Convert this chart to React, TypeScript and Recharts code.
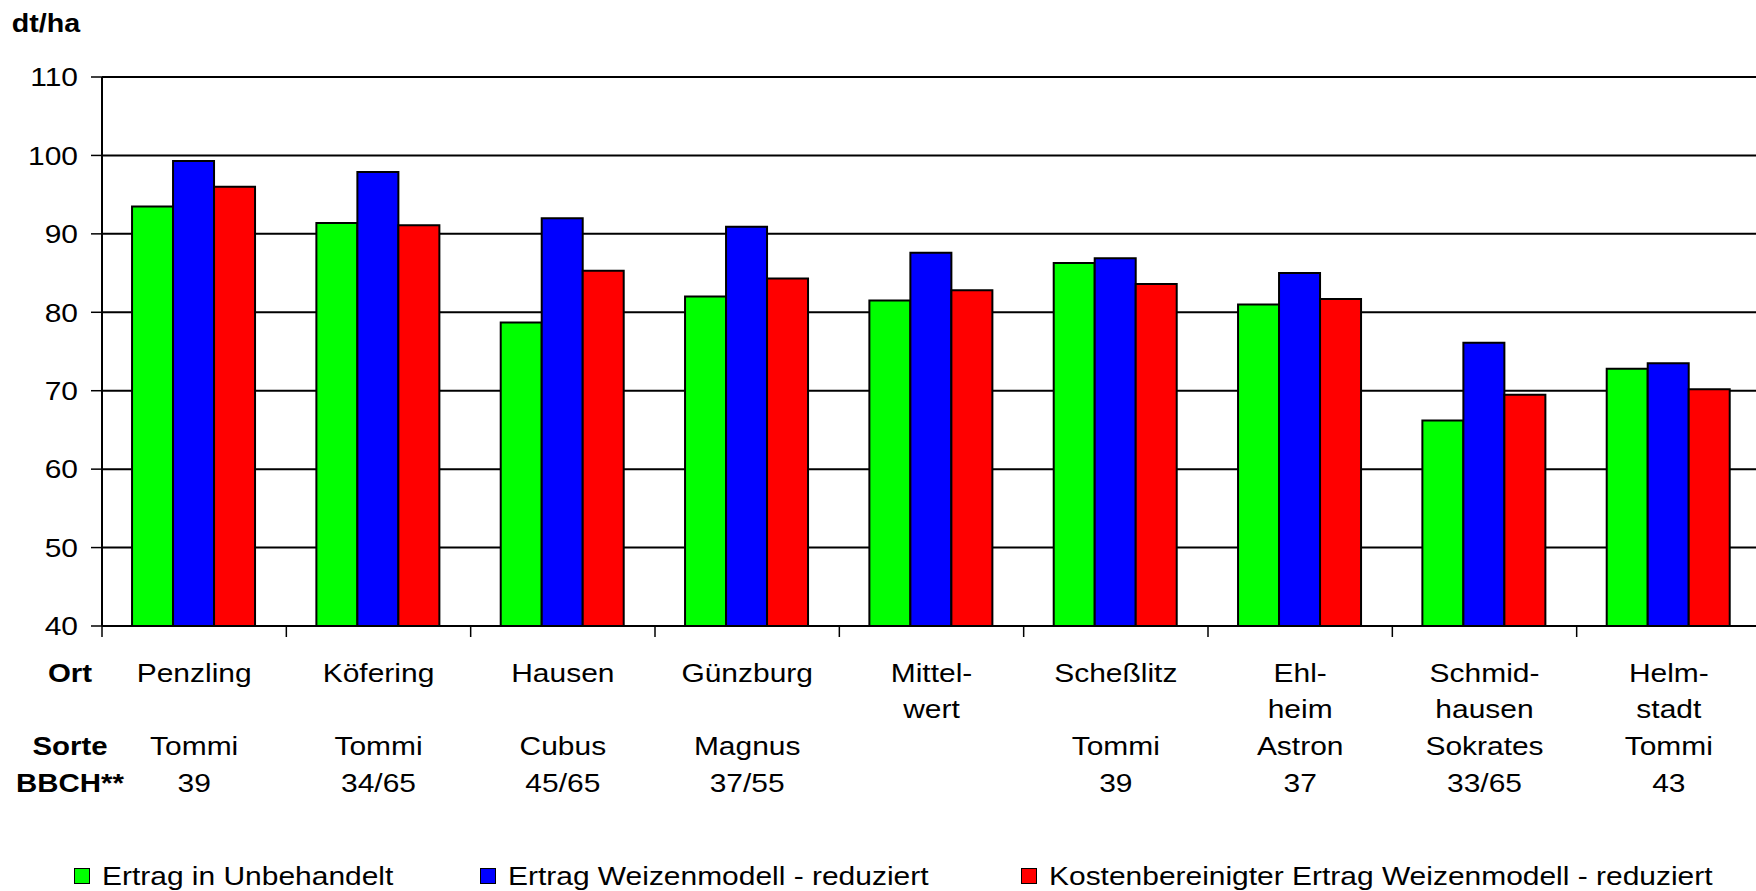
import React from 'react';
import { BarChart, Bar, XAxis, YAxis, CartesianGrid, Legend } from 'recharts';

const categories = ['Penzling', 'Köfering', 'Hausen', 'Günzburg', 'Mittelwert', 'Scheßlitz', 'Ehlheim', 'Schmidhausen', 'Helmstadt'];
const ortLine1 = ['Penzling', 'Köfering', 'Hausen', 'Günzburg', 'Mittel-', 'Scheßlitz', 'Ehl-', 'Schmid-', 'Helm-'];
const ortLine2 = ['', '', '', '', 'wert', '', 'heim', 'hausen', 'stadt'];
const sorteLabels = ['Tommi', 'Tommi', 'Cubus', 'Magnus', '', 'Tommi', 'Astron', 'Sokrates', 'Tommi'];
const bbchLabels = ['39', '34/65', '45/65', '37/55', '', '39', '37', '33/65', '43'];

const unbehandelt = [93.5, 91.4, 78.7, 82.0, 81.5, 86.3, 81.0, 66.2, 72.8];
const weizenmodell = [99.3, 97.9, 92.0, 90.9, 87.6, 86.9, 85.0, 76.1, 73.5];
const kostenbereinigt = [96.0, 91.1, 85.3, 84.3, 82.8, 83.6, 81.7, 69.5, 70.2];

const seriesNames = [
  'Ertrag in Unbehandelt',
  'Ertrag Weizenmodell - reduziert',
  'Kostenbereinigter Ertrag Weizenmodell - reduziert',
];
const seriesColors = ['#00FF00', '#0000FF', '#FF0000'];
const yTicks = [40, 50, 60, 70, 80, 90, 100, 110];
const rowHeaders = ['Ort', 'Sorte', 'BBCH**'];

const data = categories.map((c, i) => ({
  ort: c,
  u: unbehandelt[i],
  w: weizenmodell[i],
  k: kostenbereinigt[i],
}));

const FONT = '"Liberation Sans", Arial, Helvetica, sans-serif';
const FS = 25.6;
const SX = 1.17;
const PLOT_TOP = 77;
const PLOT_BOTTOM = 626;
const ROW_OFF = [55.7, 92.3, 129, 165.7];
const TICK_LEN = 11;

const CatTick = (props: any) => {
  const { x, y, payload, width } = props;
  const i = categories.indexOf(payload.value);
  const rows = [ortLine1[i], ortLine2[i], sorteLabels[i], bbchLabels[i]];
  const band = payload && payload.offset ? payload.offset * 2 : width / categories.length;
  const left = x - band / 2;
  return (
    <g>
      <line x1={left} x2={left} y1={y} y2={y + TICK_LEN} stroke="#000" strokeWidth={1.5} />
      {i === categories.length - 1 ? (
        <line x1={left + band} x2={left + band} y1={y} y2={y + TICK_LEN} stroke="#000" strokeWidth={1.5} />
      ) : null}
      {rows.map((t, r) =>
        t ? (
          <text
            key={r}
            transform={`translate(${x},${y + ROW_OFF[r]}) scale(${SX},1)`}
            textAnchor="middle"
            fontSize={FS}
            fontFamily={FONT}
            fill="#000"
          >
            {t}
          </text>
        ) : null
      )}
    </g>
  );
};

const YTick = (props: any) => {
  const { x, y, payload } = props;
  return (
    <text
      transform={`translate(${x},${y}) scale(${SX},1)`}
      textAnchor="end"
      dy="0.36em"
      fontSize={FS}
      fontFamily={FONT}
      fill="#000"
    >
      {payload.value}
    </text>
  );
};

const legendLeft = [74, 480, 1021];

const LegendContent = () => (
  <div style={{ position: 'relative', height: 30, fontFamily: FONT, fontSize: FS, color: '#000' }}>
    {seriesNames.map((name, i) => (
      <div
        key={i}
        style={{
          position: 'absolute',
          left: legendLeft[i],
          top: 0,
          display: 'flex',
          alignItems: 'flex-start',
          lineHeight: `${FS}px`,
          whiteSpace: 'nowrap',
        }}
      >
        <span
          style={{
            display: 'inline-block',
            width: 16,
            height: 16,
            boxSizing: 'border-box',
            border: '1.5px solid #000',
            background: seriesColors[i],
            marginTop: 4,
            marginRight: 12,
          }}
        />
        <span style={{ display: 'inline-block', transform: `scaleX(${SX})`, transformOrigin: 'left center' }}>
          {name}
        </span>
      </div>
    ))}
  </div>
);

export default function App() {
  return (
    <div style={{ position: 'absolute', left: 0, top: 0, width: 1756, height: 891, overflow: 'hidden', background: '#fff' }}>
      <BarChart
        width={1770}
        height={891}
        data={data}
        margin={{ top: PLOT_TOP, right: 9, bottom: 0, left: 0 }}
        barCategoryGap="16.3%"
        barGap={0}
      >
        <CartesianGrid horizontal vertical={false} stroke="#000" strokeWidth={2} />
        <XAxis
          dataKey="ort"
          height={891 - PLOT_BOTTOM}
          interval={0}
          tickSize={0}
          tickMargin={0}
          axisLine={{ stroke: '#000', strokeWidth: 2 }}
          tickLine={false}
          tick={CatTick}
        />
        <YAxis
          domain={[40, 110]}
          ticks={yTicks}
          width={102}
          tickSize={TICK_LEN}
          tickMargin={13}
          allowDataOverflow
          axisLine={{ stroke: '#000', strokeWidth: 2 }}
          tickLine={{ stroke: '#000', strokeWidth: 1.5 }}
          tick={YTick}
        />
        <Legend
          layout="horizontal"
          verticalAlign="middle"
          align="center"
          content={LegendContent}
          wrapperStyle={{ top: 863.5, left: 0, width: 1756, margin: 0, padding: 0 }}
        />
        <Bar dataKey="u" name={seriesNames[0]} fill={seriesColors[0]} stroke="#000" strokeWidth={2} isAnimationActive={false} />
        <Bar dataKey="w" name={seriesNames[1]} fill={seriesColors[1]} stroke="#000" strokeWidth={2} isAnimationActive={false} />
        <Bar dataKey="k" name={seriesNames[2]} fill={seriesColors[2]} stroke="#000" strokeWidth={2} isAnimationActive={false} />
      </BarChart>
      <svg
        width={1756}
        height={891}
        style={{ position: 'absolute', left: 0, top: 0, pointerEvents: 'none' }}
      >
        <text
          transform={`translate(11.7,31.7) scale(1.12,1)`}
          fontSize={FS}
          fontWeight="bold"
          fontFamily={FONT}
          fill="#000"
        >
          dt/ha
        </text>
        {rowHeaders.map((h, i) => (
          <text
            key={h}
            transform={`translate(70,${PLOT_BOTTOM + ROW_OFF[i === 0 ? 0 : i + 1]}) scale(1.15,1)`}
            textAnchor="middle"
            fontSize={FS}
            fontWeight="bold"
            fontFamily={FONT}
            fill="#000"
          >
            {h}
          </text>
        ))}
      </svg>
    </div>
  );
}
